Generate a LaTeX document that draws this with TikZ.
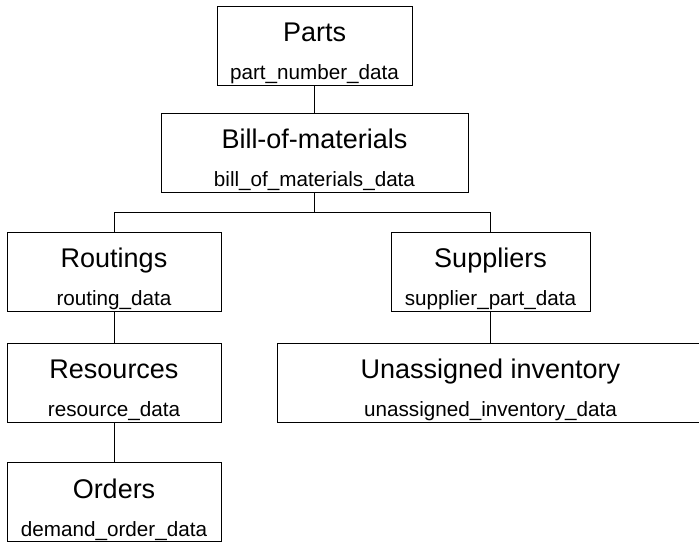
\documentclass[tikz,border=0pt]{standalone}
\usepackage{fontspec}
\setmainfont{Liberation Sans}
\usepackage{tikz}
\usetikzlibrary{positioning,calc}

\newcommand{\entname}[1]{{\fontsize{19.2}{26.7}\selectfont #1}}

\begin{document}
\begin{tikzpicture}[
    entity/.style={rectangle, draw, line width=0.6pt, align=center, inner ysep=0pt,
        font=\fontsize{14.7}{26.7}\selectfont, text height=52.3pt, text depth=3.9pt},
    link/.style={line width=0.6pt}
]
    \useasboundingbox (0,0) rectangle (17.475,-13.6);

    \node[entity, minimum width=4.875cm] (parts) at (7.8625,-1.1375) {\entname{Parts}\\part\_number\_data};
    \node[entity, minimum width=7.675cm] (bom) at (7.8625,-3.8125) {\entname{Bill-of-materials}\\bill\_of\_materials\_data};
    \node[entity, minimum width=5.35cm] (routings) at (2.85,-6.7875) {\entname{Routings}\\routing\_data};
    \node[entity, minimum width=4.975cm] (suppliers) at (12.2625,-6.7875) {\entname{Suppliers}\\supplier\_part\_data};
    \node[entity, minimum width=5.35cm] (resources) at (2.85,-9.5625) {\entname{Resources}\\resource\_data};
    \node[entity, minimum width=10.675cm] (unassigned) at (12.2625,-9.5625) {\entname{Unassigned inventory}\\unassigned\_inventory\_data};
    \node[entity, minimum width=5.35cm] (orders) at (2.85,-12.55) {\entname{Orders}\\demand\_order\_data};

    \draw[link] (parts) -- (bom);
    \draw[link] (bom.south) -- ++(0,-0.5) coordinate (bus) -| (routings.north);
    \draw[link] (bus) -| (suppliers.north);
    \draw[link] (routings) -- (resources);
    \draw[link] (resources) -- (orders);
    \draw[link] (suppliers) -- (unassigned);
\end{tikzpicture}
\end{document}
